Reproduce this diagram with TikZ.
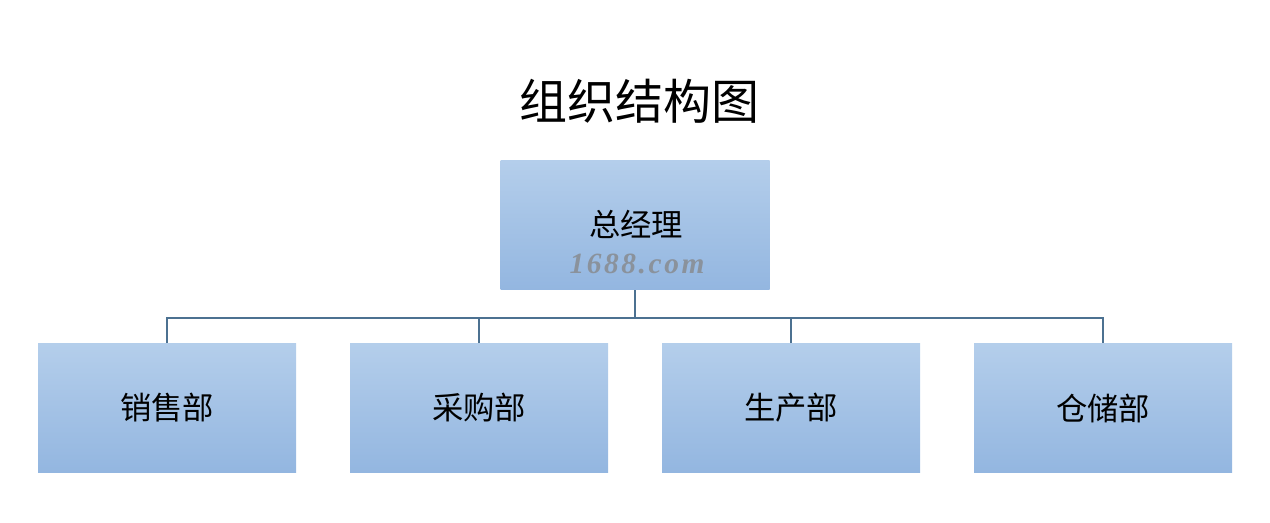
\documentclass[tikz,border=0pt]{standalone}
\usepackage{fontspec}
\newfontfamily\cjk{Noto Sans CJK SC}
\newfontfamily\wmfont[LetterSpace=9]{Liberation Serif}
\definecolor{boxtop}{HTML}{B4CEEB}
\definecolor{boxbot}{HTML}{93B6E0}
\definecolor{linec}{HTML}{4C7191}
\definecolor{wmgray}{HTML}{8A929C}
\begin{document}
\begin{tikzpicture}[x=0.75pt,y=-0.75pt,
  orgbox/.style={draw=none, rectangle, minimum width=258*0.75pt, minimum height=129*0.75pt,
    top color=boxtop, bottom color=boxbot, font=\cjk\fontsize{23.5}{27}\selectfont, inner sep=0pt},
  conn/.style={draw=linec, line width=1.5pt}]
\useasboundingbox (0,0) rectangle (1270,523);
\node[font=\cjk\fontsize{36}{40}\selectfont] (title) at (639,101) {组织结构图};
\node[orgbox, minimum width=269*0.75pt] (gm) at (635,225.5) {};
\node[font=\cjk\fontsize{23.5}{27}\selectfont] (gmt) at (636,224) {总经理};
\node[font=\wmfont\bfseries\itshape\fontsize{22}{26}\selectfont, text=wmgray] (wm) at (637,264) {1688.com};
\node[orgbox] (s) at (167,408) {销售部};
\node[orgbox] (p) at (479,408) {采购部};
\node[orgbox] (m) at (791,408) {生产部};
\node[orgbox] (w) at (1103,408) {仓储部};
\coordinate (bus) at (635,318);
\draw[conn] (gm.south) -- (bus);
\draw[conn] (s.north) |- (bus) -| (w.north);
\draw[conn] (p.north) -- (p.north |- bus);
\draw[conn] (m.north) -- (m.north |- bus);
\end{tikzpicture}
\end{document}
